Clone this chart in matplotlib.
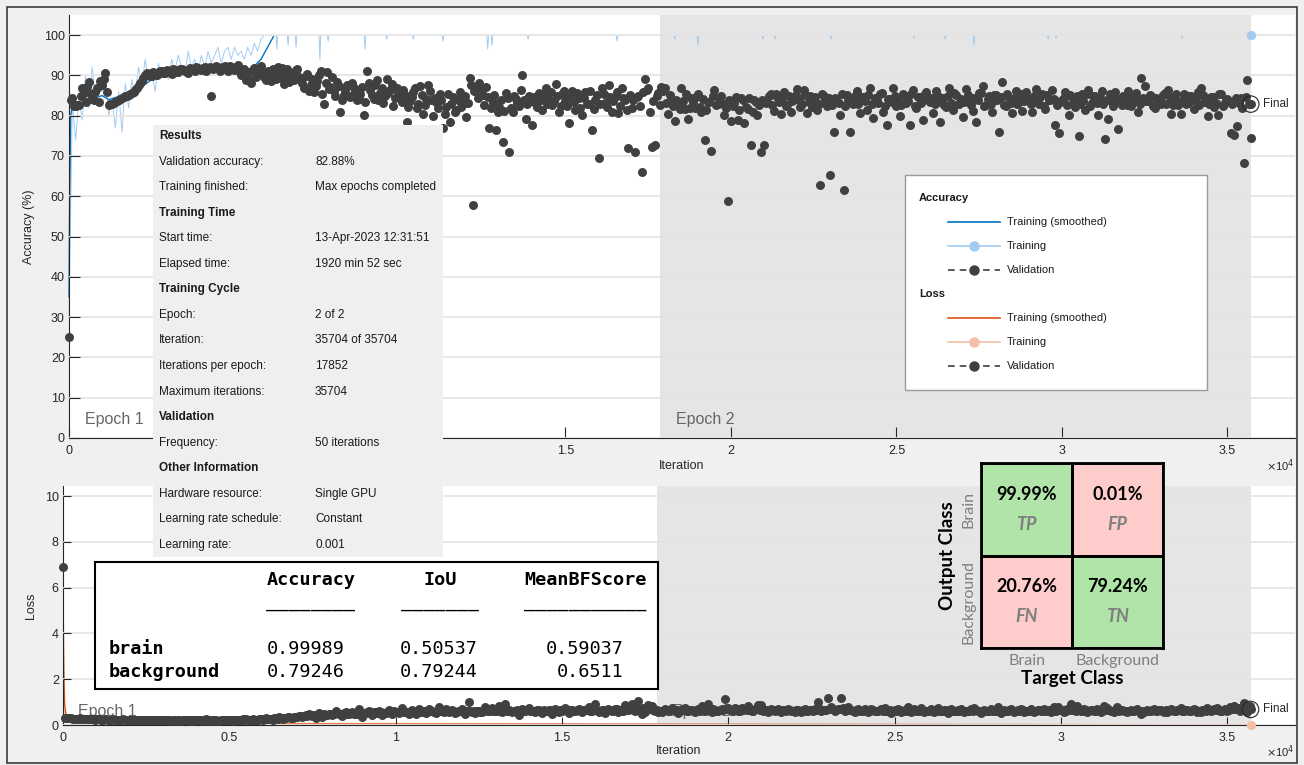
import numpy as np
import matplotlib
matplotlib.use("Agg")
import matplotlib.pyplot as plt
import matplotlib.ticker as mticker
from matplotlib.patches import Rectangle
from matplotlib.lines import Line2D
from matplotlib.colors import ListedColormap

plt.rcParams["font.family"] = ["Liberation Sans", "DejaVu Sans"]

# ── training run ─────────────────────────────────────────────────────────────
iters_per_epoch = 17852
max_iter = 35704
val_freq = 50

# validation accuracy (%) at iterations 0, 100, 200, ...
val_acc_even = [
    25.0, 84.5, 82.5, 82.6, 86.8, 83.4, 88.3, 84.2, 86.0, 83.5,
    87.5, 90.6, 82.6, 83.0, 83.4, 84.0, 84.3, 84.8, 85.2, 85.6,
    86.3, 87.6, 88.5, 90.1, 90.3, 89.8, 90.7, 90.4, 91.0, 90.6,
    91.0, 90.4, 91.3, 90.8, 91.5, 91.1, 90.6, 91.6, 91.2, 91.8,
    91.4, 92.0, 91.5, 85.0, 91.8, 92.2, 91.6, 92.4, 91.0, 92.1,
    91.3, 92.5, 90.2, 91.7, 89.0, 88.2, 91.9, 90.4, 92.3, 89.6,
    91.2, 88.5, 90.8, 92.0, 89.4, 87.8, 91.5, 90.0, 88.9, 91.7,
    89.1, 86.9, 90.3, 87.5, 85.8, 88.6, 91.0, 83.0, 90.8, 87.2,
    86.1, 88.4, 81.0, 85.2, 87.7, 84.6, 86.8, 83.9, 85.5, 80.2,
    91.2, 86.4, 84.1, 88.9, 85.7, 83.2, 89.0, 86.3, 82.4, 87.0,
    84.8, 86.5, 78.4, 83.6, 85.9, 81.8, 87.3, 80.5, 84.2, 86.1,
    80.0, 83.5, 85.4, 77.0, 82.1, 78.5, 84.7, 81.3, 86.0, 82.8,
    79.6, 89.3, 57.8, 86.5, 88.0, 85.1, 87.2, 77.0, 83.4, 76.5,
    82.2, 73.5, 85.6, 71.0, 80.8, 84.1, 82.5, 90.0, 79.3, 84.9,
    77.8, 83.0, 85.7, 81.4, 86.8, 84.0, 82.6, 87.9, 80.9, 85.3,
    83.7, 78.2, 86.2, 81.5, 84.5, 80.3, 85.9, 82.8, 76.4, 84.0,
    69.5, 86.8, 83.2, 87.5, 81.0, 84.6, 80.7, 87.0, 83.9, 72.0,
    82.0, 71.0, 84.8, 66.0, 89.0, 87.0, 72.2, 72.8, 85.6, 87.1,
    87.0, 80.5, 84.2, 78.8, 83.1, 87.0, 81.7, 79.2, 84.4, 82.0,
    85.4, 80.9, 74.0, 83.5, 71.3, 86.5, 82.8, 84.9, 80.3, 58.8,
    78.6, 83.2, 79.0, 84.4, 78.2, 81.6, 72.7, 84.0, 80.1, 71.0,
    72.8, 83.5, 85.5, 81.2, 84.6, 80.4, 85.8, 82.7, 80.9, 84.3,
    86.7, 82.1, 86.4, 80.6, 84.9, 83.3, 81.5, 62.8, 85.0, 82.4,
    65.3, 76.0, 83.7, 80.2, 61.5, 85.2, 76.0, 82.9, 86.1, 80.7,
    84.6, 81.3, 86.8, 79.4, 83.9, 85.5, 80.8, 77.7, 84.1, 86.9,
    82.5, 80.0, 85.3, 83.1, 77.7, 86.4, 81.9, 84.7, 79.0, 85.8,
    83.4, 80.7, 86.1, 78.5, 84.3, 82.2, 87.0, 81.5, 85.2, 83.0,
    79.8, 86.6, 84.0, 81.2, 78.5, 85.7, 87.3, 82.6, 84.8, 80.9,
    85.1, 76.0, 88.3, 82.3, 84.4, 80.6, 86.2, 83.5, 81.1, 85.9,
    84.2, 80.8, 86.7, 82.9, 85.4, 81.6, 84.0, 86.3, 77.7, 75.7,
    83.8, 86.0, 80.3, 84.7, 82.1, 75.0, 85.5, 81.4, 86.4, 83.2,
    84.9, 80.3, 86.1, 74.2, 79.3, 83.5, 85.8, 76.6, 82.7, 84.4,
    86.2, 82.5, 84.7, 81.0, 89.3, 87.3, 83.6, 85.0, 81.8, 84.2,
    82.9, 85.7, 86.5, 80.5, 84.0, 82.6, 80.5, 85.3, 83.1, 84.8,
    81.7, 85.9, 87.0, 83.4, 80.0, 84.6, 82.2, 80.2, 85.4, 83.0,
    84.1, 75.7, 75.3, 77.5, 84.5, 68.2, 88.8, 74.5,
]
# validation accuracy (%) at iterations 50, 150, 250, ...
val_acc_odd = [
    84.0, 82.4, 82.7, 84.9, 85.6, 87.2, 85.3, 83.8, 86.9, 88.6,
    89.2, 86.0, 82.8, 83.2, 83.7, 84.1, 84.6, 85.0, 85.4, 86.0,
    87.0, 88.0, 89.4, 90.5, 89.9, 90.8, 90.2, 91.2, 90.7, 91.4,
    90.8, 91.5, 90.9, 91.7, 91.3, 90.9, 91.9, 91.4, 92.0, 91.6,
    91.8, 91.2, 92.1, 91.6, 92.4, 91.1, 92.0, 91.5, 92.3, 91.7,
    92.0, 91.0, 90.6, 88.8, 90.9, 91.4, 89.5, 91.9, 90.7, 88.9,
    90.3, 91.6, 89.2, 90.9, 91.8, 89.9, 88.4, 90.6, 91.3, 89.7,
    88.0, 89.8, 86.2, 89.0, 87.3, 90.2, 85.4, 88.1, 86.6, 89.5,
    85.0, 87.3, 83.8, 86.4, 84.9, 88.0, 85.8, 84.2, 87.1, 83.5,
    88.2, 85.1, 87.6, 84.0, 86.9, 84.8, 85.6, 87.9, 84.5, 85.9,
    83.4, 85.2, 82.1, 84.7, 86.8, 83.0, 85.1, 82.6, 87.5, 83.9,
    84.5, 81.8, 83.9, 80.4, 85.3, 82.9, 80.8, 84.0, 82.2, 85.0,
    83.1, 87.6, 86.2, 84.3, 86.9, 82.7, 84.6, 81.9, 85.2, 80.9,
    83.8, 81.2, 84.4, 82.0, 85.0, 83.1, 86.3, 84.0, 82.9, 83.6,
    84.7, 82.2, 83.9, 85.4, 82.8, 86.0, 83.6, 84.8, 82.3, 86.1,
    82.4, 84.9, 83.3, 85.6, 82.0, 84.3, 83.0, 86.2, 81.7, 85.1,
    83.0, 85.3, 82.1, 84.7, 83.6, 86.0, 82.5, 84.4, 81.3, 85.2,
    83.8, 84.6, 82.4, 85.8, 86.4, 80.9, 83.7, 84.9, 82.6, 86.2,
    83.2, 85.1, 82.4, 84.0, 81.6, 83.7, 85.3, 82.0, 83.5, 84.6,
    82.2, 84.1, 81.5, 83.3, 85.0, 82.6, 84.4, 83.0, 81.8, 83.9,
    82.4, 84.6, 81.3, 83.8, 82.1, 84.3, 80.9, 83.4, 82.7, 84.0,
    83.1, 84.8, 82.6, 85.5, 83.3, 84.1, 82.4, 84.9, 83.6, 85.2,
    84.0, 82.9, 85.1, 83.4, 82.1, 84.6, 83.0, 85.3, 83.8, 84.5,
    82.6, 84.3, 83.1, 85.4, 82.4, 84.0, 83.5, 85.0, 82.8, 84.7,
    83.6, 85.2, 82.9, 84.4, 83.2, 85.6, 82.5, 84.1, 83.4, 85.0,
    84.2, 82.7, 84.9, 83.6, 85.3, 82.3, 84.6, 83.1, 85.5, 83.9,
    84.4, 82.9, 85.0, 83.5, 82.6, 84.8, 83.2, 85.6, 82.8, 84.1,
    83.4, 85.2, 82.7, 84.5, 83.8, 85.7, 82.4, 84.2, 83.0, 85.1,
    83.9, 84.7, 82.6, 85.3, 83.1, 84.4, 82.9, 85.5, 83.7, 84.3,
    82.8, 85.0, 83.4, 84.6, 82.5, 85.2, 83.9, 84.1, 82.7, 83.5,
    84.5, 82.6, 85.1, 83.3, 84.8, 82.9, 83.6, 85.4, 82.3, 84.9,
    83.2, 84.6, 82.8, 83.9, 85.3, 82.5, 84.2, 83.5, 85.0, 82.7,
    84.8, 83.3, 85.6, 82.9, 84.5, 83.7, 85.1, 82.4, 84.3, 83.6,
    85.2, 83.0, 84.7, 82.7, 85.4, 83.5, 84.0, 82.8, 85.0, 83.9,
    84.3, 82.6, 85.1, 83.8, 82.9, 84.7, 83.2, 85.5, 82.5, 84.0,
    83.6, 82.8, 84.4, 83.1, 81.9, 84.6, 83.0,
]
val_acc_final = 82.88

# validation loss at iterations 0, 100, 200, ...
val_loss_even = [
    6.90, 0.32, 0.30, 0.28, 0.27, 0.29, 0.26, 0.27, 0.25, 0.26,
    0.25, 0.27, 0.24, 0.26, 0.23, 0.25, 0.24, 0.22, 0.25, 0.23,
    0.24, 0.22, 0.23, 0.21, 0.24, 0.22, 0.20, 0.23, 0.21, 0.22,
    0.21, 0.23, 0.20, 0.22, 0.19, 0.21, 0.22, 0.20, 0.19, 0.21,
    0.20, 0.22, 0.19, 0.27, 0.20, 0.18, 0.21, 0.19, 0.22, 0.20,
    0.21, 0.19, 0.24, 0.20, 0.26, 0.28, 0.22, 0.25, 0.21, 0.27,
    0.24, 0.30, 0.26, 0.23, 0.31, 0.35, 0.27, 0.32, 0.36, 0.29,
    0.34, 0.41, 0.33, 0.44, 0.48, 0.38, 0.30, 0.52, 0.35, 0.45,
    0.50, 0.42, 0.62, 0.47, 0.40, 0.55, 0.46, 0.58, 0.49, 0.68,
    0.37, 0.52, 0.60, 0.44, 0.56, 0.63, 0.45, 0.54, 0.66, 0.50,
    0.58, 0.51, 0.74, 0.57, 0.49, 0.65, 0.46, 0.70, 0.56, 0.52,
    0.72, 0.59, 0.53, 0.78, 0.62, 0.70, 0.55, 0.64, 0.51, 0.61,
    0.69, 0.48, 1.00, 0.55, 0.52, 0.60, 0.56, 0.77, 0.61, 0.73,
    0.63, 0.85, 0.57, 0.90, 0.66, 0.58, 0.62, 0.45, 0.70, 0.59,
    0.75, 0.61, 0.55, 0.66, 0.52, 0.60, 0.64, 0.50, 0.69, 0.58,
    0.62, 0.74, 0.53, 0.67, 0.59, 0.71, 0.55, 0.64, 0.79, 0.60,
    0.93, 0.56, 0.64, 0.52, 0.70, 0.61, 0.72, 0.55, 0.63, 0.88,
    0.66, 0.92, 0.60, 1.05, 0.50, 0.55, 0.87, 0.84, 0.62, 0.58,
    0.55, 0.71, 0.62, 0.76, 0.64, 0.54, 0.69, 0.75, 0.61, 0.67,
    0.58, 0.70, 0.82, 0.63, 0.90, 0.56, 0.66, 0.60, 0.72, 1.12,
    0.74, 0.63, 0.73, 0.59, 0.76, 0.68, 0.85, 0.61, 0.70, 0.88,
    0.86, 0.64, 0.57, 0.69, 0.60, 0.72, 0.56, 0.65, 0.70, 0.61,
    0.55, 0.67, 0.58, 0.71, 0.62, 0.64, 0.69, 1.00, 0.60, 0.66,
    1.18, 0.78, 0.63, 0.70, 1.16, 0.59, 0.80, 0.64, 0.56, 0.69,
    0.61, 0.68, 0.55, 0.72, 0.63, 0.59, 0.70, 0.76, 0.62, 0.54,
    0.65, 0.71, 0.58, 0.64, 0.77, 0.56, 0.68, 0.61, 0.73, 0.57,
    0.63, 0.70, 0.57, 0.74, 0.61, 0.66, 0.54, 0.69, 0.60, 0.64,
    0.71, 0.56, 0.62, 0.68, 0.75, 0.59, 0.53, 0.65, 0.61, 0.70,
    0.60, 0.79, 0.52, 0.66, 0.62, 0.71, 0.58, 0.64, 0.69, 0.57,
    0.63, 0.70, 0.56, 0.67, 0.59, 0.68, 0.62, 0.57, 0.77, 0.80,
    0.64, 0.58, 0.72, 0.92, 0.66, 0.81, 0.59, 0.69, 0.56, 0.65,
    0.61, 0.72, 0.57, 0.82, 0.74, 0.63, 0.58, 0.78, 0.66, 0.62,
    0.57, 0.67, 0.61, 0.71, 0.50, 0.55, 0.64, 0.60, 0.70, 0.63,
    0.66, 0.58, 0.56, 0.72, 0.62, 0.67, 0.73, 0.59, 0.65, 0.61,
    0.69, 0.58, 0.55, 0.64, 0.73, 0.61, 0.68, 0.74, 0.59, 0.66,
    0.62, 0.80, 0.82, 0.76, 0.63, 0.95, 0.55, 0.85,
]
# validation loss at iterations 50, 150, 250, ...
val_loss_odd = [
    0.31, 0.29, 0.30, 0.27, 0.28, 0.26, 0.27, 0.25, 0.26, 0.24,
    0.26, 0.24, 0.25, 0.23, 0.24, 0.23, 0.24, 0.22, 0.23, 0.22,
    0.23, 0.21, 0.22, 0.21, 0.22, 0.21, 0.22, 0.20, 0.21, 0.20,
    0.20, 0.21, 0.19, 0.21, 0.20, 0.19, 0.20, 0.21, 0.20, 0.19,
    0.21, 0.20, 0.22, 0.19, 0.21, 0.20, 0.19, 0.21, 0.20, 0.21,
    0.20, 0.22, 0.21, 0.23, 0.22, 0.24, 0.23, 0.22, 0.24, 0.25,
    0.27, 0.25, 0.28, 0.29, 0.27, 0.31, 0.30, 0.33, 0.31, 0.34,
    0.37, 0.39, 0.40, 0.38, 0.42, 0.44, 0.41, 0.43, 0.46, 0.42,
    0.46, 0.49, 0.51, 0.48, 0.52, 0.50, 0.53, 0.49, 0.55, 0.51,
    0.53, 0.55, 0.51, 0.56, 0.54, 0.58, 0.53, 0.57, 0.55, 0.59,
    0.56, 0.60, 0.57, 0.55, 0.59, 0.61, 0.56, 0.58, 0.62, 0.57,
    0.60, 0.58, 0.62, 0.59, 0.57, 0.61, 0.60, 0.63, 0.58, 0.62,
    0.61, 0.59, 0.63, 0.60, 0.62, 0.58, 0.64, 0.61, 0.59, 0.63,
    0.62, 0.60, 0.64, 0.61, 0.63, 0.59, 0.65, 0.62, 0.60, 0.64,
    0.63, 0.61, 0.65, 0.60, 0.64, 0.62, 0.66, 0.61, 0.63, 0.65,
    0.64, 0.62, 0.66, 0.63, 0.65, 0.61, 0.67, 0.64, 0.62, 0.66,
    0.65, 0.63, 0.67, 0.64, 0.66, 0.62, 0.68, 0.65, 0.63, 0.67,
    0.70, 0.66, 0.72, 0.68, 0.74, 0.69, 0.71, 0.67, 0.65, 0.62,
    0.63, 0.66, 0.61, 0.68, 0.64, 0.62, 0.67, 0.63, 0.65, 0.61,
    0.64, 0.62, 0.67, 0.65, 0.63, 0.68, 0.61, 0.66, 0.64, 0.70,
    0.66, 0.63, 0.68, 0.62, 0.65, 0.67, 0.64, 0.62, 0.69, 0.65,
    0.63, 0.66, 0.61, 0.64, 0.67, 0.62, 0.65, 0.63, 0.66, 0.62,
    0.64, 0.61, 0.66, 0.63, 0.65, 0.62, 0.67, 0.70, 0.64, 0.66,
    0.72, 0.68, 0.65, 0.69, 0.74, 0.64, 0.67, 0.62, 0.65, 0.63,
    0.62, 0.65, 0.60, 0.64, 0.61, 0.66, 0.63, 0.60, 0.65, 0.62,
    0.61, 0.64, 0.60, 0.63, 0.59, 0.65, 0.62, 0.60, 0.64, 0.61,
    0.60, 0.63, 0.59, 0.62, 0.60, 0.64, 0.61, 0.59, 0.63, 0.60,
    0.62, 0.59, 0.63, 0.60, 0.64, 0.61, 0.59, 0.62, 0.60, 0.63,
    0.61, 0.64, 0.60, 0.62, 0.65, 0.61, 0.63, 0.60, 0.64, 0.62,
    0.60, 0.63, 0.61, 0.64, 0.62, 0.60, 0.65, 0.61, 0.63, 0.66,
    0.64, 0.62, 0.67, 0.65, 0.63, 0.68, 0.62, 0.65, 0.61, 0.64,
    0.62, 0.65, 0.61, 0.67, 0.64, 0.62, 0.66, 0.63, 0.65, 0.61,
    0.63, 0.60, 0.64, 0.62, 0.60, 0.63, 0.61, 0.64, 0.62, 0.65,
    0.61, 0.64, 0.62, 0.65, 0.63, 0.66, 0.62, 0.64, 0.61, 0.65,
    0.64, 0.62, 0.66, 0.63, 0.65, 0.67, 0.64, 0.66, 0.63, 0.68,
    0.67, 0.72, 0.70, 0.74, 0.69, 0.78, 0.71,
]
val_loss_final = 0.68

# raw training accuracy: every 100 iterations for the first 6000, then dips from 100
train_acc_early = [
    30, 83, 74, 84, 79, 90, 82, 92, 85, 88,
    86, 91, 80, 84, 77, 86, 76, 88, 82, 89,
    85, 92, 87, 94, 89, 91, 86, 93, 90, 92,
    89, 94, 91, 95, 92, 90, 96, 92, 94, 91,
    95, 92, 96, 93, 95, 97, 93, 96, 97, 94,
    97, 95, 96, 94, 97, 95, 98, 96, 99, 100,
]
train_acc_dip_iters = [6280, 6620, 6860, 7580, 7830, 8940, 9600, 10400, 11300,
                       12650, 12780, 13870, 16560, 18300, 19000, 20960, 21330,
                       23020, 25530, 26470, 27340, 29580, 29820, 33630]
train_acc_dip_vals = [96.5, 97.5, 97.0, 94.0, 98.5, 96.5, 99.0, 99.0, 98.5,
                      96.5, 97.5, 99.0, 98.5, 99.0, 97.5, 99.0, 99.0,
                      99.0, 99.3, 99.0, 97.5, 99.0, 99.2, 99.2]
train_acc_final = 100

smooth_acc_iters = [0, 20, 50, 100, 1000, 1200, 2000, 2500, 3000, 5500, 5800, 6000,
                    6200, 35704]
smooth_acc_vals = [35, 60, 80, 82.5, 85, 84, 86, 89, 90.5, 91.5, 94, 97, 100, 100]

smooth_loss_iters = [0, 10, 25, 50, 100, 300, 35704]
smooth_loss_vals = [7.6, 4.5, 2.4, 0.9, 0.3, 0.05, 0.01]
train_loss_iters = [0, 5, 15, 30, 60, 35704]
train_loss_vals = [7.6, 6.0, 2.3, 0.5, 0.1, 0.0]
train_loss_final = 0.0

# ── summary panel ────────────────────────────────────────────────────────────
results_labels = ["Results", "Validation accuracy:", "Training finished:",
                  "Training Time", "Start time:", "Elapsed time:",
                  "Training Cycle", "Epoch:", "Iteration:", "Iterations per epoch:",
                  "Maximum iterations:", "Validation", "Frequency:",
                  "Other Information", "Hardware resource:",
                  "Learning rate schedule:", "Learning rate:"]
results_values = [None, "82.88%", "Max epochs completed",
                  None, "13-Apr-2023 12:31:51", "1920 min 52 sec",
                  None, "2 of 2", "35704 of 35704", "17852",
                  "35704", None, "50 iterations",
                  None, "Single GPU", "Constant", "0.001"]

# ── per-class metrics ────────────────────────────────────────────────────────
metric_names = ["Accuracy", "IoU", "MeanBFScore"]
class_names = ["brain", "background"]
metric_vals = [[0.99989, 0.50537, 0.59037],
               [0.79246, 0.79244, 0.6511]]

# ── confusion matrix (%), rows = output class, cols = target class ──────────
cm_classes = ["Brain", "Background"]
cm_pct = [[99.99, 0.01],
          [20.76, 79.24]]
cm_tags = [["TP", "FP"],
           ["FN", "TN"]]

# ── colours ──────────────────────────────────────────────────────────────────
BG = "#f0f0f0"
DARK = "#262626"
VAL = "#404040"
BLUE = "#0072bd"
LBLUE = "#a3cbef"
ORANGE = "#d95319"
LORANGE = "#f3bfa6"
SHADE = "#e5e5e5"
GRID = "#e3e3e3"

W, H = 1304, 765
fig = plt.figure(figsize=(W / 100, H / 100), dpi=100, facecolor=BG)

ax_acc = fig.add_axes([69 / W, 1 - 438 / H, 1226 / W, 423 / H])
ax_loss = fig.add_axes([63 / W, 1 - 725 / H, 1232 / W, 239 / H])

# validation points every 50 iterations
val_x = np.concatenate([np.arange(len(val_acc_even)) * 2 * val_freq,
                        val_freq + np.arange(len(val_acc_odd)) * 2 * val_freq])
val_acc = np.concatenate([val_acc_even, val_acc_odd])
val_loss = np.concatenate([val_loss_even, val_loss_odd])

# raw training accuracy series
tr_x = list(np.arange(len(train_acc_early)) * 2 * val_freq)
tr_y = list(train_acc_early)
for it, v in zip(train_acc_dip_iters, train_acc_dip_vals):
    tr_x += [it - 25, it, it + 25]
    tr_y += [100, v, 100]
tr_x.append(max_iter)
tr_y.append(train_acc_final)


def style_axes(ax, ymax, yticks, ylabel, tick_len, label_x, xlabel_y):
    ax.set_xlim(0, 37040)
    ax.set_ylim(0, ymax)
    ax.set_facecolor("white")
    ax.axvspan(iters_per_epoch, max_iter, color=SHADE, lw=0, zorder=0)
    for s in ["top", "right"]:
        ax.spines[s].set_visible(False)
    for s in ["left", "bottom"]:
        ax.spines[s].set_color(DARK)
        ax.spines[s].set_linewidth(0.8)
    ax.set_xticks(np.arange(0, 35001, 5000))
    ax.xaxis.set_major_formatter(mticker.FuncFormatter(lambda v, _: f"{v / 1e4:g}"))
    ax.set_yticks(yticks)
    ax.tick_params(direction="in", length=tick_len, width=0.8, color=DARK,
                   labelcolor=DARK, labelsize=9, pad=3)
    ax.tick_params(axis="x", pad=5)
    ax.set_axisbelow(False)
    ax.grid(axis="y", color=GRID, lw=1.2)
    ax.set_ylabel(ylabel, fontsize=9, color=DARK)
    ax.yaxis.set_label_coords(label_x, 0.5)
    ax.set_xlabel("Iteration", fontsize=9, color=DARK)
    ax.xaxis.set_label_coords(0.5, xlabel_y)


# ── accuracy ─────────────────────────────────────────────────────────────────
style_axes(ax_acc, 105, np.arange(0, 101, 10), "Accuracy (%)", 8, -0.028, -0.052)
# the 100 % plateau sits under the grid line, as in the MATLAB window
below_grid = Rectangle((-2000, -10), 42000, 109.75, transform=ax_acc.transData)
for xs, ys, col, lw in [(tr_x, tr_y, LBLUE, 0.7),
                        (smooth_acc_iters, smooth_acc_vals, BLUE, 1.0)]:
    ln, = ax_acc.plot(xs, ys, color=col, lw=lw, zorder=1.5)
    ln.set_clip_path(below_grid)
ax_acc.scatter(val_x, val_acc, s=42, color=VAL, lw=0, zorder=3, clip_on=False)
ax_acc.scatter([max_iter], [val_acc_final], s=42, color=VAL, lw=0, zorder=3)
ax_acc.scatter([max_iter], [val_acc_final], s=140, facecolor="none",
               edgecolor=DARK, lw=0.8, zorder=4)
ax_acc.scatter([max_iter], [train_acc_final], s=45, color=LBLUE, lw=0, zorder=4,
               clip_on=False)
ax_acc.annotate("Final", (max_iter, val_acc_final), xytext=(9, 0),
                textcoords="offset points", va="center", fontsize=8.5, color=DARK)
ax_acc.text(483, 4.5, "Epoch 1", fontsize=11.5, color="#666666", va="center")
ax_acc.text(iters_per_epoch + 483, 4.5, "Epoch 2", fontsize=11.5, color="#666666",
            va="center")

# ── loss ─────────────────────────────────────────────────────────────────────
style_axes(ax_loss, 10.44, np.arange(0, 11, 2), "Loss", 6, -0.021, -0.084)
ax_loss.plot(train_loss_iters, train_loss_vals, color=LORANGE, lw=0.8, zorder=1.5)
ax_loss.plot(smooth_loss_iters, smooth_loss_vals, color=ORANGE, lw=1.0, zorder=1.6)
ax_loss.scatter(val_x, val_loss, s=42, color=VAL, lw=0, zorder=3, clip_on=False)
ax_loss.scatter([max_iter], [val_loss_final], s=42, color=VAL, lw=0, zorder=3)
ax_loss.scatter([max_iter], [val_loss_final], s=140, facecolor="none",
                edgecolor=DARK, lw=0.8, zorder=4)
ax_loss.scatter([max_iter], [train_loss_final], s=45, color=LORANGE, lw=0, zorder=4,
                clip_on=False)
ax_loss.annotate("Final", (max_iter, val_loss_final), xytext=(9, 0),
                 textcoords="offset points", va="center", fontsize=8.5, color=DARK)
ax_loss.text(451, 0.6, "Epoch 1", fontsize=11.5, color="#666666", va="center", zorder=1)
ax_loss.text(iters_per_epoch + 451, 0.6, "Epoch 2", fontsize=11.5, color="#666666",
             va="center", zorder=1)

# ── overlay (pixel coordinates) ──────────────────────────────────────────────
ov = fig.add_axes([0, 0, 1, 1], zorder=5)
ov.set_xlim(0, W)
ov.set_ylim(H, 0)
ov.axis("off")
ov.patch.set_visible(False)

# outer frame
ov.add_patch(Rectangle((7, 7), 1290, 756, fill=False, ec="#3a3a3a", lw=1.2))

for yy in (466, 752):
    ov.text(1266, yy, r"$\times$10$^{4}$", fontsize=8, color=DARK, va="center")

# results panel
ov.add_patch(Rectangle((153, 125), 290, 432, fc="#efefef", ec="none"))
for i, (lab, val) in enumerate(zip(results_labels, results_values)):
    yy = 136 + i * 25.56
    ov.text(159, yy, lab, fontsize=8.5, va="center", color="#1a1a1a",
            fontweight="bold" if val is None else "normal")
    if val is not None:
        ov.text(315, yy, val, fontsize=8.5, va="center", color="#1a1a1a")

# legend
ov.add_patch(Rectangle((905, 175), 302, 215, fc="white", ec="#9a9a9a", lw=1))
leg = [("Accuracy", None), ("Training (smoothed)", (BLUE, "-", None)),
       ("Training", (LBLUE, "-", LBLUE)), ("Validation", (VAL, "--", VAL)),
       ("Loss", None), ("Training (smoothed)", (ORANGE, "-", None)),
       ("Training", (LORANGE, "-", LORANGE)), ("Validation", (VAL, "--", VAL))]
for i, (lab, sty) in enumerate(leg):
    yy = 198 + i * 24.0
    if sty is None:
        ov.text(919, yy, lab, fontsize=8, fontweight="bold", va="center", color="#1a1a1a")
        continue
    col, ls, mcol = sty
    ov.add_line(Line2D([948, 1000], [yy, yy], color=col, ls=ls, lw=1.2,
                       dashes=(4, 3) if ls == "--" else (None, None)))
    if mcol:
        ov.plot([974], [yy], "o", color=mcol, ms=6.5)
    ov.text(1007, yy, lab, fontsize=8, va="center", color="#1a1a1a")

# per-class metrics table
MONO = "DejaVu Sans Mono"
ov.add_patch(Rectangle((95, 562), 563, 127, fc="white", ec="black", lw=1.5))
col_right = [345, 478, 624]
col_center = [311, 440, 585]
underline = [8, 7, 11]
for name, cx, n in zip(metric_names, col_center, underline):
    ov.text(cx, 580, name, family=MONO, fontsize=13.3, fontweight="bold",
            ha="center", va="center")
    ov.text(cx, 602, "_" * n, family=MONO, fontsize=13.3, ha="center", va="center")
for r, cname in enumerate(class_names):
    yy = 649 + r * 23
    ov.text(109, yy, cname, family=MONO, fontsize=13.3, fontweight="bold", va="center")
    for c, v in enumerate(metric_vals[r]):
        ov.text(col_right[c], yy, f"{v:g}", family=MONO, fontsize=13.3,
                ha="right", va="center")

# ── confusion matrix ─────────────────────────────────────────────────────────
CMF = ["Lato", "DejaVu Sans"]
ax_cm = fig.add_axes([981 / W, 1 - 648 / H, 182 / W, 185 / H], zorder=6)
correct = np.array([[t in ("TP", "TN") for t in row] for row in cm_tags], dtype=float)
ax_cm.pcolormesh(correct, cmap=ListedColormap(["#ffcccc", "#b0e4a8"]),
                 edgecolors="black", linewidth=2)
ax_cm.set_xlim(0, 2)
ax_cm.set_ylim(2, 0)
for r in range(2):
    for c in range(2):
        ax_cm.text(c + 0.5, r + 0.34, f"{cm_pct[r][c]:.2f}%", ha="center", va="center",
                   family=CMF, fontsize=13, fontweight="bold", color="black")
        ax_cm.text(c + 0.5, r + 0.66, cm_tags[r][c], ha="center", va="center",
                   family=CMF, fontsize=13, fontweight="bold", style="italic",
                   color="#7f7f7f")
for s in ax_cm.spines.values():
    s.set_linewidth(2)
    s.set_color("black")
ax_cm.set_xticks([0.5, 1.5])
ax_cm.set_xticklabels(cm_classes, family=CMF, fontsize=11.5, color="#7f7f7f")
ax_cm.set_yticks([0.5, 1.5])
ax_cm.set_yticklabels(cm_classes, family=CMF, fontsize=11.5, color="#7f7f7f",
                      rotation=90, va="center")
ax_cm.tick_params(length=0, pad=4)
ax_cm.set_xlabel("Target Class", family=CMF, fontsize=13.5, fontweight="bold", labelpad=2)
ax_cm.set_ylabel("Output Class", family=CMF, fontsize=13.5, fontweight="bold", labelpad=4)

fig.savefig("out.png", dpi=100, facecolor=BG)
